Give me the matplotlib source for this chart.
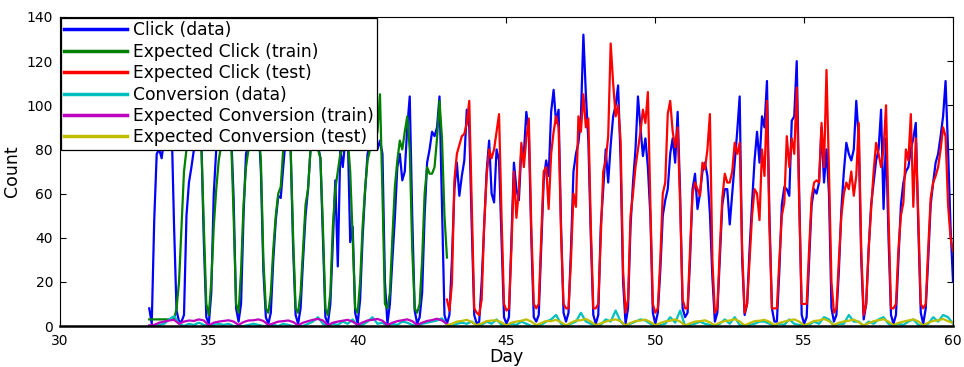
import numpy as np
import matplotlib.pyplot as plt

# hourly-ish samples (every 2 h), one row per day
click_data = [
    8, 1, 48, 78, 80, 76, 85, 90, 88, 92, 45, 7,          # 33
    2, 2, 5, 50, 65, 72, 80, 86, 90, 84, 38, 4,           # 34
    1, 15, 60, 80, 84, 88, 85, 92, 95, 88, 58, 8,         # 35
    2, 10, 50, 78, 82, 86, 90, 94, 92, 70, 25, 4,         # 36
    1, 6, 30, 48, 59, 58, 72, 85, 88, 80, 35, 5,          # 37
    1, 8, 30, 50, 62, 80, 86, 88, 82, 76, 40, 4,          # 38
    1, 10, 38, 66, 27, 80, 72, 84, 88, 38, 45, 6,         # 39
    1, 12, 40, 61, 78, 82, 86, 85, 80, 84, 78, 20,        # 40
    1, 10, 30, 49, 72, 78, 66, 70, 90, 104, 50, 7,        # 41
    1, 4, 15, 50, 74, 80, 88, 86, 90, 104, 55, 5,         # 42
    1, 5, 30, 62, 74, 59, 68, 75, 98, 90, 45, 5,          # 43
    1, 2, 20, 45, 70, 84, 60, 56, 80, 75, 40, 4,          # 44
    1, 4, 40, 74, 62, 57, 80, 78, 97, 88, 40, 4,          # 45
    2, 5, 35, 66, 75, 68, 97, 107, 92, 98, 45, 6,         # 46
    2, 6, 35, 70, 78, 83, 95, 132, 105, 84, 40, 5,        # 47
    1, 5, 45, 62, 80, 65, 82, 95, 100, 109, 75, 20,       # 48
    1, 8, 45, 65, 80, 104, 90, 77, 85, 72, 50, 6,         # 49
    1, 6, 25, 50, 57, 62, 78, 85, 74, 97, 60, 8,          # 50
    4, 6, 30, 62, 69, 53, 60, 70, 74, 68, 51, 22,         # 51
    2, 6, 30, 55, 62, 62, 46, 60, 74, 88, 104, 30,        # 52
    5, 10, 35, 56, 75, 88, 74, 95, 90, 111, 50, 8,        # 53
    2, 2, 25, 55, 63, 62, 59, 93, 95, 120, 60, 5,         # 54
    1, 4, 30, 55, 62, 60, 65, 90, 65, 80, 60, 8,          # 55
    2, 5, 25, 53, 70, 83, 78, 75, 80, 102, 85, 30,        # 56
    3, 10, 35, 55, 65, 75, 80, 98, 53, 85, 40, 5,         # 57
    1, 5, 30, 55, 65, 70, 72, 80, 85, 92, 45, 6,          # 58
    1, 8, 30, 55, 65, 74, 78, 86, 95, 111, 80, 45,        # 59
    20,
]

click_train = [
    3, 3, 3, 3, 3, 3, 3, 3, 3, 3, 3, 8,                   # 33
    20, 45, 70, 80, 82, 85, 80, 90, 92, 82, 45, 10,       # 34
    5, 20, 45, 62, 75, 82, 85, 88, 90, 85, 50, 10,        # 35
    6, 25, 55, 72, 80, 84, 88, 90, 90, 75, 30, 8,         # 36
    6, 15, 35, 50, 60, 63, 80, 86, 88, 80, 40, 8,         # 37
    6, 15, 35, 55, 62, 80, 84, 86, 80, 76, 45, 8,         # 38
    5, 15, 45, 62, 70, 78, 80, 82, 85, 70, 40, 8,         # 39
    6, 20, 45, 62, 75, 80, 82, 85, 88, 105, 60, 10,       # 40
    8, 15, 40, 63, 75, 84, 80, 88, 95, 80, 35, 8,         # 41
    6, 10, 30, 60, 72, 69, 69, 72, 85, 102, 85, 50,       # 42
    31,
]

click_test = [
    12, 7, 19, 66, 78, 82, 86, 87, 92, 102, 55, 8,        # 43
    6, 5, 12, 46, 68, 80, 76, 80, 88, 96, 50, 10,         # 44
    7, 8, 35, 70, 49, 62, 83, 72, 85, 94, 45, 10,         # 45
    8, 10, 40, 70, 72, 53, 78, 88, 95, 90, 42, 10,        # 46
    8, 8, 30, 60, 54, 95, 88, 105, 90, 94, 45, 8,         # 47
    8, 10, 40, 70, 75, 86, 128, 110, 95, 100, 84, 25,     # 48
    6, 12, 50, 60, 72, 80, 88, 98, 92, 106, 55, 10,       # 49
    6, 8, 30, 60, 65, 96, 102, 88, 81, 90, 55, 12,        # 50
    8, 8, 35, 60, 65, 62, 59, 74, 71, 80, 96, 30,         # 51
    6, 8, 35, 58, 69, 65, 65, 70, 83, 78, 83, 35,         # 52
    6, 10, 30, 50, 62, 60, 48, 80, 68, 102, 45, 8,        # 53
    8, 8, 30, 50, 56, 86, 72, 85, 78, 108, 55, 10,        # 54
    10, 10, 35, 58, 65, 66, 65, 92, 72, 116, 70, 20,      # 55
    6, 8, 30, 50, 60, 65, 62, 70, 59, 68, 92, 35,         # 56
    5, 10, 35, 53, 70, 83, 78, 72, 80, 100, 50, 8,        # 57
    8, 10, 35, 50, 56, 80, 75, 96, 54, 85, 50, 10,        # 58
    8, 10, 35, 58, 65, 68, 72, 80, 90, 86, 55, 40,        # 59
    34,
]

# conversions, every 4 h
conv_data = [
    0, 0, 0.5, 1, 3, 4.5,   1, 0, 1, 0.5, 1.5, 0.5,   0, 0.5, 1, 0.5, 1, 0,
    0, 0, 0.5, 1, 0.5, 0,   0, 0.5, 0, 1, 0.5, 0,     0, 0, 1, 2, 4, 1,
    0, 1, 0.5, 2, 1, 3,     0, 0.5, 2, 4, 1, 1.5,     0, 1, 0.5, 2, 1.5, 0.5,
    0, 1, 1.5, 2, 2.5, 3.5, 0.5, 0, 1, 1.5, 1, 2,     0, 0.5, 2, 1, 3, 0.5,
    0, 1, 0.5, 2, 1, 0,     0, 0.5, 2, 3, 5, 1,       0, 1, 2, 6, 2, 1,
    0, 0.5, 3, 2, 7, 2,     0, 1, 2, 3, 2.5, 1,       0, 0.5, 1, 4, 1.5, 7,
    0, 0.5, 1, 2, 1, 0.5,   0, 1, 3, 1, 4, 0.5,       0, 0.5, 1, 2, 2, 1,
    0, 1, 0.5, 3, 1, 0.5,   0, 0.5, 2, 1, 4, 3,       0, 1, 1, 5, 2, 2,
    0, 2, 1, 3, 4, 1,       0, 1, 0.5, 2, 3, 0.5,     0, 1, 4, 2, 5, 4,
    1,
]

conv_train = [
    0.3, 0.5, 1.5, 2.0, 2.5, 2.8,
    1.0, 2.0, 2.5, 2.3, 3.0, 2.5,
    0.3, 1.5, 2.0, 2.3, 2.6, 2.0,
    0.5, 1.8, 2.5, 2.6, 3.0, 2.3,
    0.4, 1.2, 2.0, 2.2, 2.5, 1.8,
    0.3, 1.5, 2.2, 2.8, 3.2, 2.5,
    0.4, 1.5, 2.0, 2.4, 2.8, 2.0,
    0.5, 1.6, 2.5, 2.8, 3.2, 2.4,
    0.4, 1.5, 2.2, 2.6, 3.0, 2.2,
    0.5, 1.5, 2.3, 2.7, 3.3, 2.5,
    1.0,
]

conv_test = [
    0.3, 1.0, 2.0, 2.3, 2.8, 1.8,
    0.4, 1.2, 2.2, 2.5, 2.6, 1.6,
    0.3, 1.5, 2.0, 2.4, 3.0, 2.0,
    0.4, 1.3, 2.3, 2.2, 2.8, 1.7,
    0.3, 1.5, 2.5, 2.6, 3.2, 2.0,
    0.4, 1.2, 2.0, 2.6, 3.0, 2.2,
    0.3, 1.4, 2.2, 2.5, 2.9, 1.8,
    0.4, 1.3, 2.1, 2.4, 3.0, 2.0,
    0.3, 1.2, 2.0, 2.2, 2.6, 1.6,
    0.4, 1.5, 2.3, 2.5, 3.1, 2.1,
    0.3, 1.3, 2.2, 2.4, 2.8, 1.9,
    0.4, 1.4, 2.0, 2.6, 3.0, 2.0,
    0.3, 1.2, 2.3, 2.5, 3.2, 2.2,
    0.4, 1.5, 2.1, 2.4, 2.9, 1.8,
    0.3, 1.3, 2.2, 2.6, 3.1, 2.0,
    0.4, 1.4, 2.0, 2.5, 3.0, 2.1,
    0.3, 1.5, 2.3, 2.6, 3.2, 2.2,
    1.5,
]

t_click = 33 + np.arange(len(click_data)) / 12
t_train = 33 + np.arange(len(click_train)) / 12
t_test = 43 + np.arange(len(click_test)) / 12
t_conv = 33 + np.arange(len(conv_data)) / 6
t_ctrain = 33 + np.arange(len(conv_train)) / 6
t_ctest = 43 + np.arange(len(conv_test)) / 6

plt.rcParams['font.family'] = 'DejaVu Sans'

fig = plt.figure(figsize=(9.64, 3.67), dpi=100)
ax = fig.add_axes([0.0622, 0.1117, 0.9264, 0.842])

lw = 1.6
ax.plot(t_click, click_data, color=(0, 0, 1), lw=lw, label='Click (data)')
ax.plot(t_train, click_train, color=(0, 0.5, 0), lw=lw, label='Expected Click (train)')
ax.plot(t_test, click_test, color=(1, 0, 0), lw=lw, label='Expected Click (test)')
ax.plot(t_conv, conv_data, color=(0, 0.75, 0.75), lw=lw, label='Conversion (data)')
ax.plot(t_ctrain, conv_train, color=(0.75, 0, 0.75), lw=lw, label='Expected Conversion (train)')
ax.plot(t_ctest, conv_test, color=(0.75, 0.75, 0), lw=lw, label='Expected Conversion (test)')

ax.set_xlim(30, 60)
ax.set_ylim(0, 140)
ax.set_xticks(range(30, 61, 5))
ax.set_yticks(range(0, 141, 20))
ax.tick_params(direction='in', top=True, right=True, length=4, labelsize=10)
ax.tick_params(axis='x', pad=6)
ax.tick_params(axis='y', pad=5)
for s in ax.spines.values():
    s.set_linewidth(0.8)
ax.spines['bottom'].set_linewidth(1.8)

ax.set_xlabel('Day', fontsize=12.5, labelpad=0)
ax.set_ylabel('Count', fontsize=12.5, labelpad=4)

leg = ax.legend(loc='upper left', fontsize=12.3, handlelength=3.7, handletextpad=0.3,
                labelspacing=0.2, borderaxespad=0.05, borderpad=0.2,
                fancybox=False, framealpha=1, edgecolor='black')
leg.get_frame().set_linewidth(0.9)
for line in leg.get_lines():
    line.set_linewidth(2.5)

fig.savefig('out.png', dpi=100)
